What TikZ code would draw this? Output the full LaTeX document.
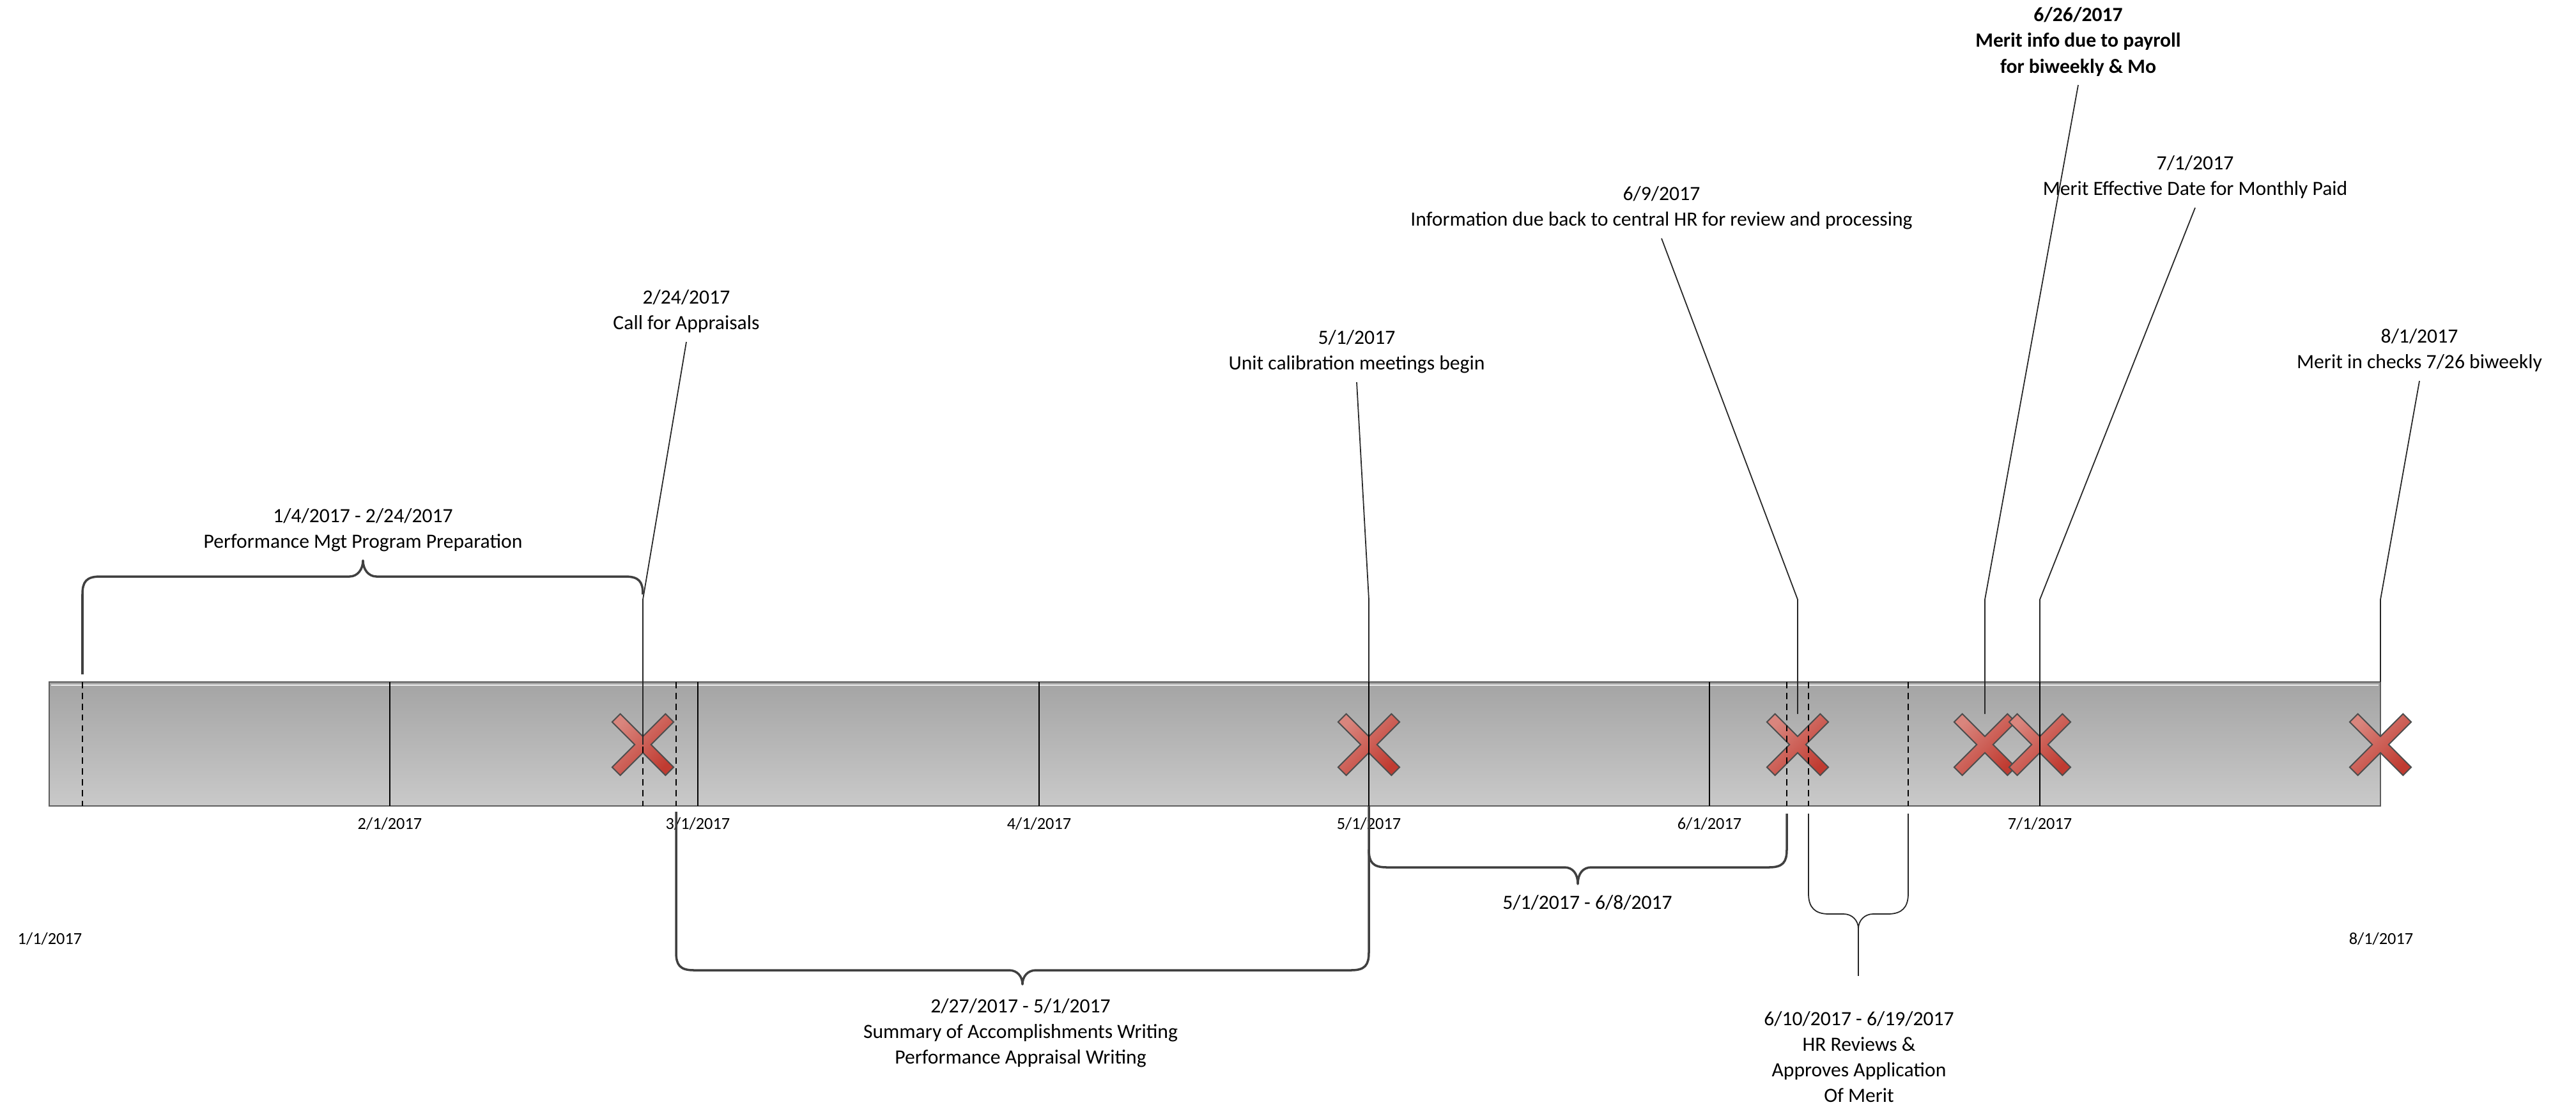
\documentclass[tikz,border=0pt]{standalone}
\usepackage{fontspec}
\setmainfont{Carlito}
\definecolor{barTop}{HTML}{A4A4A4}
\definecolor{barBot}{HTML}{C9C9C9}
\definecolor{barEdge}{HTML}{5E5E5E}
\definecolor{xLight}{HTML}{D9857D}
\definecolor{xDark}{HTML}{C03B31}
\definecolor{braceGray}{HTML}{404040}
\tikzset{
  evtlabel/.style={align=center, inner sep=0pt, outer sep=0.14cm, anchor=south, font=\fontsize{9}{11.4}\selectfont},
  spanlabel/.style={align=center, inner sep=0pt, font=\fontsize{9}{11.4}\selectfont},
  datelabel/.style={inner sep=0pt, anchor=base, font=\fontsize{7.5}{9}\selectfont},
  callout/.style={draw=black!85, line width=0.5pt},
  monthline/.style={black, line width=0.55pt},
  dayline/.style={black, line width=0.5pt, dash pattern=on 2.8pt off 2pt},
  brace/.style={draw=braceGray, line width=1pt, line join=round},
  xmark/.pic={\draw[draw=black!70, line width=0.55pt, top color=xLight, bottom color=xDark, shading angle=45, rotate=45]
    (0.09,0.09) -- (0.59,0.09) -- (0.59,-0.09) -- (0.09,-0.09) -- (0.09,-0.59) -- (-0.09,-0.59) -- (-0.09,-0.09)
    -- (-0.59,-0.09) -- (-0.59,0.09) -- (-0.09,0.09) -- (-0.09,0.59) -- (0.09,0.59) -- cycle;}
}
\begin{document}
\begin{tikzpicture}
  \useasboundingbox (0,0) rectangle (40.31,-17.31);
  \draw[barEdge, line width=0.8pt, top color=barTop, bottom color=barBot] (0.77,-10.67) rectangle (37.25,-12.61);
  \draw[white!85!gray, line width=0.6pt] (0.80,-10.72) -- (37.22,-10.72);
  % events on the bar
  \coordinate (e224) at (10.06,-11.65); \coordinate (e501) at (21.42,-11.65); \coordinate (e609) at (28.13,-11.65);
  \coordinate (e626) at (31.06,-11.65); \coordinate (e701) at (31.92,-11.65); \coordinate (e801) at (37.25,-11.65);
  \foreach \e in {e224,e501,e609,e626,e701,e801} \pic at (\e) {xmark};
  \foreach \x in {6.10,10.92,16.26,21.42,26.75,31.92} \draw[monthline] (\x,-10.67) -- (\x,-12.61);
  \foreach \x in {1.29,10.06,10.58,27.96,28.30,29.86} \draw[dayline] (\x,-10.67) -- (\x,-12.61);
  \foreach \x/\m in {6.10/2,10.92/3,16.26/4,21.42/5,26.75/6,31.92/7} \node[datelabel] (m\m) at (\x,-12.97) {\m/1/2017};
  \node[datelabel] (m1) at (0.78,-14.77) {1/1/2017}; \node[datelabel] (m8) at (37.26,-14.77) {8/1/2017};
  % labels and callouts
  \node[evtlabel] (lbl224) at (10.74,-5.35) {2/24/2017\\Call for Appraisals};
  \node[evtlabel] (lbl501) at (21.23,-5.98) {5/1/2017\\Unit calibration meetings begin};
  \node[evtlabel] (lbl609) at (26.00,-3.73) {6/9/2017\\Information due back to central HR for review and processing};
  \node[evtlabel, font=\fontsize{9}{11.4}\selectfont\bfseries] (lbl626) at (32.52,-1.33) {6/26/2017\\Merit info due to payroll\\for biweekly \& Mo};
  \node[evtlabel] (lbl701) at (34.35,-3.25) {7/1/2017\\Merit Effective Date for Monthly Paid};
  \node[evtlabel] (lbl801) at (37.86,-5.96) {8/1/2017\\Merit in checks 7/26 biweekly};
  \draw[callout] (lbl224.south) -- (10.06,-9.38) -- (e224);
  \draw[callout] (lbl501.south) -- (21.42,-9.38) -- (21.42,-10.67);
  \draw[callout] (lbl609.south) -- (28.13,-9.38) -- ([yshift=0.48cm]e609);
  \draw[callout] (lbl626.south) -- (31.06,-9.38) -- ([yshift=0.48cm]e626);
  \draw[callout] (lbl701.south) -- (31.92,-9.38) -- (31.92,-10.67);
  \draw[callout] (lbl801.south) -- (37.25,-9.38) -- (37.25,-10.67);
  % braces
  \draw[brace] (1.29,-10.55) -- (1.29,-9.30) .. controls (1.29,-9.10) and (1.35,-9.02) .. (1.57,-9.02) -- (5.47,-9.02)
    .. controls (5.60,-9.02) and (5.68,-8.90) .. (5.68,-8.77) .. controls (5.68,-8.90) and (5.76,-9.02) .. (5.89,-9.02)
    -- (9.78,-9.02) .. controls (10.00,-9.02) and (10.06,-9.10) .. (10.06,-9.30);
  \node[spanlabel, anchor=south] (span1) at (5.68,-8.64) {1/4/2017 - 2/24/2017\\Performance Mgt Program Preparation};
  \draw[brace] (10.58,-12.70) -- (10.58,-14.90) .. controls (10.58,-15.10) and (10.64,-15.18) .. (10.86,-15.18) -- (15.79,-15.18)
    .. controls (15.92,-15.18) and (16.00,-15.28) .. (16.00,-15.40) .. controls (16.00,-15.28) and (16.08,-15.18) .. (16.21,-15.18)
    -- (21.14,-15.18) .. controls (21.36,-15.18) and (21.42,-15.10) .. (21.42,-14.90) -- (21.42,-12.61);
  \node[spanlabel, anchor=north] (span2) at (15.97,-15.62) {2/27/2017 - 5/1/2017\\Summary of Accomplishments Writing\\Performance Appraisal Writing};
  \draw[brace] (21.42,-13.29) .. controls (21.42,-13.49) and (21.48,-13.57) .. (21.70,-13.57) -- (24.48,-13.57)
    .. controls (24.61,-13.57) and (24.69,-13.67) .. (24.69,-13.83) .. controls (24.69,-13.67) and (24.77,-13.57) .. (24.90,-13.57)
    -- (27.68,-13.57) .. controls (27.90,-13.57) and (27.96,-13.49) .. (27.96,-13.29) -- (27.96,-12.73);
  \node[spanlabel, anchor=base] (span3) at (24.84,-14.22) {5/1/2017 - 6/8/2017};
  \draw[callout] (28.30,-12.73) -- (28.30,-13.98) .. controls (28.30,-14.20) and (28.40,-14.30) .. (28.62,-14.30) -- (28.85,-14.30)
    .. controls (28.98,-14.30) and (29.08,-14.40) .. (29.08,-14.53) .. controls (29.08,-14.40) and (29.18,-14.30) .. (29.31,-14.30)
    -- (29.54,-14.30) .. controls (29.76,-14.30) and (29.86,-14.20) .. (29.86,-13.98) -- (29.86,-12.73);
  \coordinate (tip4) at (29.08,-14.53); \coordinate (end4) at (29.08,-15.27);
  \draw[callout] (tip4) -- (end4);
  \node[spanlabel, anchor=north] (span4) at (29.09,-15.82) {6/10/2017 - 6/19/2017\\HR Reviews \&\\Approves Application\\Of Merit};
\end{tikzpicture}
\end{document}
